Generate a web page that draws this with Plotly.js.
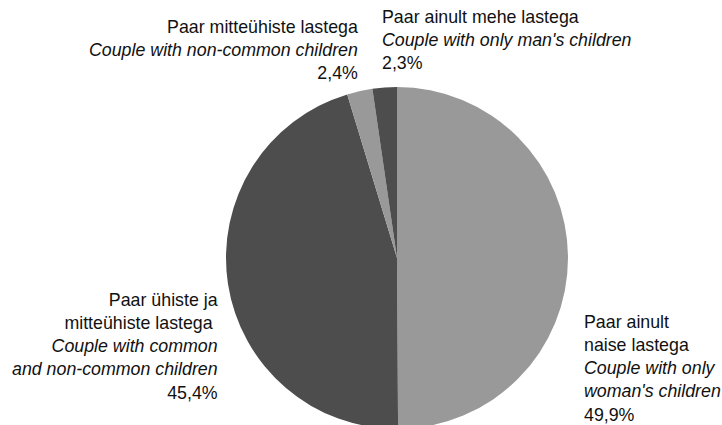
<!DOCTYPE html>
<html>
<head>
<meta charset="utf-8">
<script src="https://cdn.plot.ly/plotly-3.0.1.min.js"></script>
<style>
html,body{margin:0;padding:0;overflow:hidden;background:#fff;}
#chart{width:722px;height:435px;}
</style>
</head>
<body>
<div id="chart"></div>
<script>
var categories = [
  "Paar ainult naise lastega",
  "Paar ühiste ja mitteühiste lastega",
  "Paar mitteühiste lastega",
  "Paar ainult mehe lastega"
];
var labelsEt = ["Paar ainult<br>naise lastega", "Paar ühiste ja<br>mitteühiste lastega\u00a0", "Paar mitteühiste lastega", "Paar ainult mehe lastega"];
var labelsEn = ["Couple with only<br>woman's children", "Couple with common<br>and non-common children", "Couple with non-common children", "Couple with only man's children"];
var values = [49.9, 45.4, 2.4, 2.3];
var valueText = ["49,9%", "45,4%", "2,4%", "2,3%"];
var sliceColors = ["#999999", "#4d4d4d", "#999999", "#4d4d4d"];

var W = 722, H = 435;
function px(x){ return x / W; }
function py(y){ return (H - y) / H; }

var trace = {
  type: "pie",
  labels: categories,
  values: values,
  sort: false,
  direction: "clockwise",
  rotation: 0,
  textinfo: "none",
  hoverinfo: "none",
  marker: {colors: sliceColors, line: {width: 0}},
  domain: {x: [px(226), px(568)], y: [py(429), py(87)]},
  showlegend: false
};

// label anchor positions (pixels): [x, yTop, xanchor]
var labelPos = [
  [582, 310, "left"],
  [220, 288, "right"],
  [360, 15, "right"],
  [380, 5, "left"]
];

var annotations = categories.map(function(c, i){
  return {
    xref: "paper", yref: "paper",
    x: px(labelPos[i][0]), y: py(labelPos[i][1]),
    xanchor: labelPos[i][2], yanchor: "top",
    align: labelPos[i][2],
    showarrow: false,
    text: labelsEt[i] + "<br><i>" + labelsEn[i] + "</i><br>" + valueText[i],
    font: {family: "Liberation Sans, Arial, sans-serif", size: 17.8, color: "#111111"}
  };
});

var layout = {
  width: W, height: H,
  margin: {l: 0, r: 0, t: 0, b: 0, pad: 0},
  paper_bgcolor: "#ffffff",
  plot_bgcolor: "#ffffff",
  annotations: annotations,
  showlegend: false
};

Plotly.newPlot("chart", [trace], layout, {displayModeBar: false, staticPlot: true});
</script>
</body>
</html>
